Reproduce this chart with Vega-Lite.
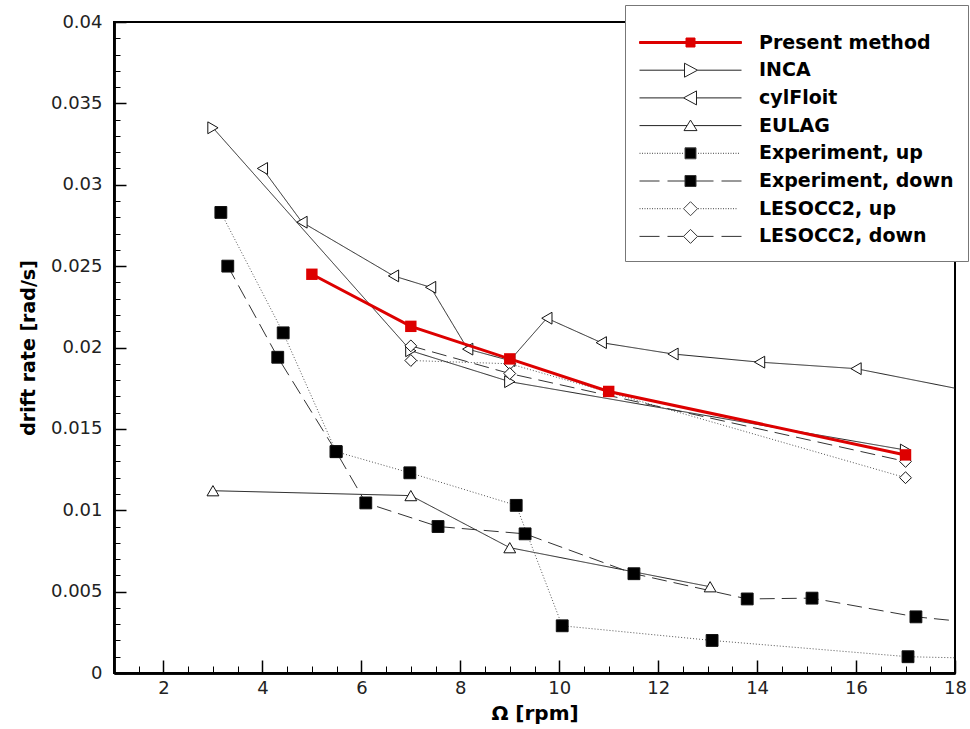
{
 "$schema": "https://vega.github.io/schema/vega-lite/v6.json",
 "width": 841,
 "height": 651,
 "autosize": {"type": "none"},
 "padding": {"left": 114, "top": 22, "right": 15, "bottom": 56},
 "background": "white",
 "config": {
  "view": {"stroke": "black", "strokeWidth": 2},
  "axis": {"grid": false, "domainColor": "black", "domainWidth": 2.5, "tickColor": "black", "labelFont": "DejaVu Sans", "labelFontSize": 18, "labelColor": "#222", "titleFont": "DejaVu Sans", "titleFontWeight": "bold", "titleColor": "black", "labelFlush": false, "labelOverlap": false},
  "legend": {"orient": "none", "legendX": 511, "legendY": -17, "padding": 14, "fillColor": "white", "strokeColor": "#777", "symbolSize": 100, "symbolStrokeWidth": 1, "symbolOffset": 42, "labelOffset": 59, "labelFont": "DejaVu Sans", "labelFontSize": 19, "labelFontWeight": "bold", "labelColor": "black", "labelLimit": 400, "rowPadding": 7.7, "titleFontSize": 9, "titlePadding": 5}
 },
 "data": {"values": [
  {"series": "Present method", "omega": 5, "rate": 0.0245},
  {"series": "Present method", "omega": 7, "rate": 0.0213},
  {"series": "Present method", "omega": 9, "rate": 0.0193},
  {"series": "Present method", "omega": 11, "rate": 0.0173},
  {"series": "Present method", "omega": 17, "rate": 0.0134},
  {"series": "INCA", "omega": 3, "rate": 0.0335},
  {"series": "INCA", "omega": 7, "rate": 0.0198},
  {"series": "INCA", "omega": 9, "rate": 0.0179},
  {"series": "INCA", "omega": 17, "rate": 0.0137},
  {"series": "cylFloit", "omega": 4, "rate": 0.031},
  {"series": "cylFloit", "omega": 4.8, "rate": 0.0277},
  {"series": "cylFloit", "omega": 6.65, "rate": 0.0244},
  {"series": "cylFloit", "omega": 7.4, "rate": 0.0237},
  {"series": "cylFloit", "omega": 8.15, "rate": 0.0199},
  {"series": "cylFloit", "omega": 9.0, "rate": 0.0192},
  {"series": "cylFloit", "omega": 9.75, "rate": 0.0218},
  {"series": "cylFloit", "omega": 10.85, "rate": 0.0203},
  {"series": "cylFloit", "omega": 12.3, "rate": 0.0196},
  {"series": "cylFloit", "omega": 14.05, "rate": 0.0191},
  {"series": "cylFloit", "omega": 16.0, "rate": 0.0187},
  {"series": "cylFloit", "omega": 20, "rate": 0.0163},
  {"series": "EULAG", "omega": 3, "rate": 0.0112},
  {"series": "EULAG", "omega": 7, "rate": 0.0109},
  {"series": "EULAG", "omega": 9, "rate": 0.0077},
  {"series": "EULAG", "omega": 13.05, "rate": 0.0053},
  {"series": "Experiment, up", "omega": 3.16, "rate": 0.0283},
  {"series": "Experiment, up", "omega": 4.42, "rate": 0.0209},
  {"series": "Experiment, up", "omega": 5.49, "rate": 0.0136},
  {"series": "Experiment, up", "omega": 6.98, "rate": 0.0123},
  {"series": "Experiment, up", "omega": 9.13, "rate": 0.0103},
  {"series": "Experiment, up", "omega": 10.06, "rate": 0.0029},
  {"series": "Experiment, up", "omega": 13.09, "rate": 0.002},
  {"series": "Experiment, up", "omega": 17.05, "rate": 0.001},
  {"series": "Experiment, up", "omega": 20, "rate": 0.0008},
  {"series": "Experiment, down", "omega": 3.3, "rate": 0.025},
  {"series": "Experiment, down", "omega": 4.31, "rate": 0.0194},
  {"series": "Experiment, down", "omega": 5.49, "rate": 0.0136},
  {"series": "Experiment, down", "omega": 6.09, "rate": 0.01045},
  {"series": "Experiment, down", "omega": 7.55, "rate": 0.009},
  {"series": "Experiment, down", "omega": 9.31, "rate": 0.00855},
  {"series": "Experiment, down", "omega": 11.51, "rate": 0.0061},
  {"series": "Experiment, down", "omega": 13.8, "rate": 0.00455},
  {"series": "Experiment, down", "omega": 15.11, "rate": 0.0046},
  {"series": "Experiment, down", "omega": 17.21, "rate": 0.00345},
  {"series": "Experiment, down", "omega": 20, "rate": 0.0026},
  {"series": "LESOCC2, up", "omega": 7, "rate": 0.0192},
  {"series": "LESOCC2, up", "omega": 9, "rate": 0.019},
  {"series": "LESOCC2, up", "omega": 17, "rate": 0.012},
  {"series": "LESOCC2, down", "omega": 7, "rate": 0.0201},
  {"series": "LESOCC2, down", "omega": 9, "rate": 0.0184},
  {"series": "LESOCC2, down", "omega": 17, "rate": 0.013}
 ]},
 "resolve": {
  "scale": {"shape": "independent", "fill": "independent", "stroke": "independent", "strokeDash": "independent"},
  "axis": {"x": "independent", "y": "independent"}
 },
 "layer": [
  {
   "transform": [{"filter": "datum.series !== 'Present method'"}],
   "mark": {"type": "line", "clip": true, "strokeWidth": 1},
   "encoding": {
    "x": {"field": "omega", "type": "quantitative", "scale": {"domain": [1, 18], "nice": false, "zero": false},
     "axis": {"orient": "bottom", "values": [1,1.5,2,2.5,3,3.5,4,4.5,5,5.5,6,6.5,7,7.5,8,8.5,9,9.5,10,10.5,11,11.5,12,12.5,13,13.5,14,14.5,15,15.5,16,16.5,17,17.5,18], "labels": false, "tickSize": -7, "tickWidth": 1, "title": null}},
    "y": {"field": "rate", "type": "quantitative", "scale": {"domain": [0, 0.04], "nice": false},
     "axis": {"orient": "left", "values": [0,0.001,0.002,0.003,0.004,0.005,0.006,0.007,0.008,0.009,0.01,0.011,0.012,0.013,0.014,0.015,0.016,0.017,0.018,0.019,0.02,0.021,0.022,0.023,0.024,0.025,0.026,0.027,0.028,0.029,0.03,0.031,0.032,0.033,0.034,0.035,0.036,0.037,0.038,0.039,0.04], "labels": false, "tickSize": -6, "tickWidth": 1, "title": null}},
    "stroke": {"field": "series", "type": "nominal", "legend": null,
     "scale": {"domain": ["INCA", "cylFloit", "EULAG", "Experiment, up", "Experiment, down", "LESOCC2, up", "LESOCC2, down"],
      "range": ["#222222", "#222222", "#222222", "#555555", "#333333", "#555555", "#333333"]}},
    "strokeDash": {"field": "series", "type": "nominal", "legend": null,
     "scale": {"domain": ["INCA", "cylFloit", "EULAG", "Experiment, up", "Experiment, down", "LESOCC2, up", "LESOCC2, down"],
      "range": [[1, 0], [1, 0], [1, 0], [1, 2], [15, 7], [1, 2], [15, 7]]}}
   }
  },
  {
   "transform": [{"filter": "datum.series !== 'Present method'"}],
   "mark": {"type": "point", "filled": true, "size": 140, "stroke": "#111111", "strokeWidth": 1, "opacity": 1, "clip": true},
   "encoding": {
    "x": {"field": "omega", "type": "quantitative",
     "axis": {"orient": "bottom", "values": [2,4,6,8,10,12,14,16,18], "format": "d", "tickSize": -13, "tickWidth": 1.5, "labelPadding": 19, "title": "Ω [rpm]", "titleFontSize": 20, "titlePadding": 6}},
    "y": {"field": "rate", "type": "quantitative",
     "axis": {"orient": "left", "values": [0,0.005,0.01,0.015,0.02,0.025,0.03,0.035,0.04], "format": "~g", "tickSize": -12, "tickWidth": 1.5, "labelPadding": 24, "title": "drift rate [rad/s]", "titleFontSize": 19, "titlePadding": 12}},
    "shape": {"field": "series", "type": "nominal", "legend": null,
     "scale": {"domain": ["INCA", "cylFloit", "EULAG", "Experiment, up", "Experiment, down", "LESOCC2, up", "LESOCC2, down"],
      "range": ["triangle-right", "triangle-left", "triangle-up", "square", "square", "diamond", "diamond"]}},
    "fill": {"field": "series", "type": "nominal", "legend": null,
     "scale": {"domain": ["INCA", "cylFloit", "EULAG", "Experiment, up", "Experiment, down", "LESOCC2, up", "LESOCC2, down"],
      "range": ["white", "white", "white", "black", "black", "white", "white"]}}
   }
  },
  {
   "transform": [{"filter": "datum.series === 'Present method'"}],
   "mark": {"type": "line", "clip": true, "color": "#dd0000", "strokeWidth": 3},
   "encoding": {
    "x": {"field": "omega", "type": "quantitative", "axis": null},
    "y": {"field": "rate", "type": "quantitative", "axis": null}
   }
  },
  {
   "transform": [{"filter": "datum.series === 'Present method'"}],
   "mark": {"type": "point", "shape": "square", "filled": true, "color": "#dd0000", "size": 130, "opacity": 1, "clip": true},
   "encoding": {
    "x": {"field": "omega", "type": "quantitative", "axis": null},
    "y": {"field": "rate", "type": "quantitative", "axis": null}
   }
  },
  {
   "transform": [{"filter": "false"}],
   "mark": {"type": "point", "filled": true, "size": 100, "strokeWidth": 1, "opacity": 1},
   "encoding": {
    "shape": {"field": "series", "type": "nominal", "title": " ",
     "scale": {"domain": ["Present method", "INCA", "cylFloit", "EULAG", "Experiment, up", "Experiment, down", "LESOCC2, up", "LESOCC2, down"],
      "range": [
       "M-10.2,-0.2H10.2V0.2H-10.2ZM-0.9,-0.9H0.9V0.9H-0.9Z",
       "M-10.2,0H-1.2M1.4,0H10.2M-1.2,-1.4L1.4,0L-1.2,1.4Z",
       "M-10.2,0H-1.4M1.2,0H10.2M1.2,-1.4L-1.4,0L1.2,1.4Z",
       "M-10.2,0H-0.68M0.68,0H10.2M0,-1.1L1.3,1L-1.3,1Z",
       "M-10.2,0h0.2m0.3,0h0.2m0.3,0h0.2m0.3,0h0.2m0.3,0h0.2m0.3,0h0.2m0.3,0h0.2m0.3,0h0.2m0.3,0h0.2m0.3,0h0.2m0.3,0h0.2m0.3,0h0.2m0.3,0h0.2m0.3,0h0.2m0.3,0h0.2m0.3,0h0.2m0.3,0h0.2m0.3,0h0.2m0.3,0M1.5,0h0.2m0.3,0h0.2m0.3,0h0.2m0.3,0h0.2m0.3,0h0.2m0.3,0h0.2m0.3,0h0.2m0.3,0h0.2m0.3,0h0.2m0.3,0h0.2m0.3,0h0.2m0.3,0h0.2m0.3,0h0.2m0.3,0h0.2m0.3,0h0.2m0.3,0h0.2m0.3,0h0.2m0.3,0M-1.1,-1.1H1.1V1.1H-1.1Z",
       "M-10.2,0H-6.2M-4.6,0H-1.1M1.1,0H4.6M6.2,0H10.2M-1.1,-1.1H1.1V1.1H-1.1Z",
       "M-10.2,0h0.2m0.3,0h0.2m0.3,0h0.2m0.3,0h0.2m0.3,0h0.2m0.3,0h0.2m0.3,0h0.2m0.3,0h0.2m0.3,0h0.2m0.3,0h0.2m0.3,0h0.2m0.3,0h0.2m0.3,0h0.2m0.3,0h0.2m0.3,0h0.2m0.3,0h0.2m0.3,0h0.2m0.3,0M1.5,0h0.2m0.3,0h0.2m0.3,0h0.2m0.3,0h0.2m0.3,0h0.2m0.3,0h0.2m0.3,0h0.2m0.3,0h0.2m0.3,0h0.2m0.3,0h0.2m0.3,0h0.2m0.3,0h0.2m0.3,0h0.2m0.3,0h0.2m0.3,0h0.2m0.3,0h0.2m0.3,0M0,-1.4L1.4,0L0,1.4L-1.4,0Z",
       "M-10.2,0H-6.2M-4.6,0H-1.4M1.4,0H4.6M6.2,0H10.2M0,-1.4L1.4,0L0,1.4L-1.4,0Z"
      ]}},
    "fill": {"field": "series", "type": "nominal", "title": " ",
     "scale": {"domain": ["Present method", "INCA", "cylFloit", "EULAG", "Experiment, up", "Experiment, down", "LESOCC2, up", "LESOCC2, down"],
      "range": ["#dd0000", "white", "white", "white", "black", "black", "white", "white"]}},
    "stroke": {"field": "series", "type": "nominal", "title": " ",
     "scale": {"domain": ["Present method", "INCA", "cylFloit", "EULAG", "Experiment, up", "Experiment, down", "LESOCC2, up", "LESOCC2, down"],
      "range": ["#dd0000", "#222222", "#222222", "#222222", "#444444", "#333333", "#444444", "#333333"]}}
   }
  }
 ]
}
